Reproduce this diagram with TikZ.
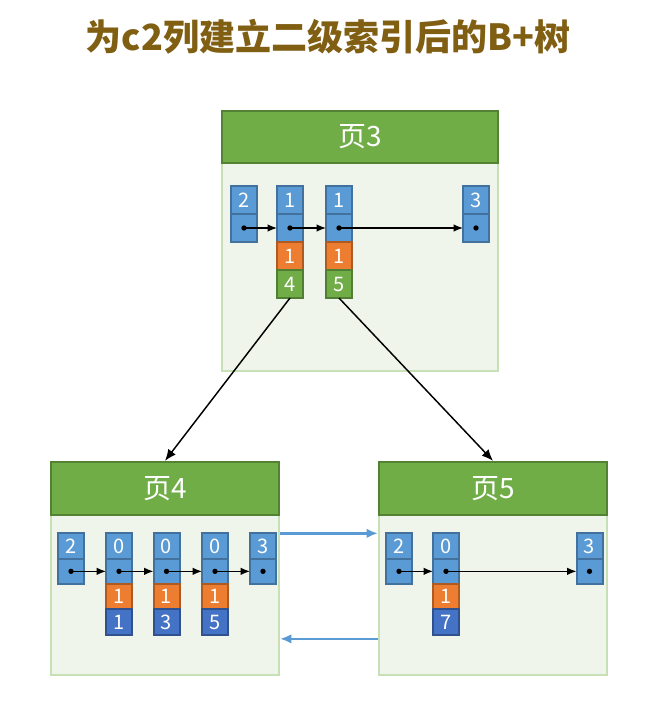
\documentclass[tikz,border=0pt]{standalone}
\usepackage{fontspec}
\setmainfont{Noto Sans CJK SC}
\usetikzlibrary{arrows.meta, positioning}
\definecolor{titlebrown}{RGB}{128,94,18}
\definecolor{headgreen}{RGB}{112,173,71}
\definecolor{headline}{RGB}{84,130,53}
\definecolor{bodyfill}{RGB}{239,245,234}
\definecolor{bodyline}{RGB}{200,224,182}
\definecolor{keyblue}{RGB}{91,155,213}
\definecolor{keyline}{RGB}{65,113,156}
\definecolor{midorange}{RGB}{237,125,49}
\definecolor{orangeline}{RGB}{174,90,33}
\definecolor{idgreen}{RGB}{112,173,71}
\definecolor{idline}{RGB}{80,126,50}
\definecolor{pkblue}{RGB}{68,114,196}
\definecolor{pkline}{RGB}{47,82,143}

\begin{document}
\begin{tikzpicture}[x=0.75pt, y=-0.75pt, node distance=0pt,
  pagebody/.style={draw=bodyline, fill=bodyfill, line width=1.5pt, inner sep=0pt},
  pagehead/.style={draw=headline, fill=headgreen, line width=1.5pt, inner sep=0pt, text=white, font=\fontsize{21}{21}\selectfont},
  cell/.style={line width=1.5pt, minimum width=19.5pt, minimum height=19pt, inner sep=0pt, outer sep=0pt, text=white, font=\fontsize{15}{15}\selectfont},
  keycell/.style={cell, draw=keyline, fill=keyblue},
  ptrcell/.style={cell, draw=keyline, fill=keyblue},
  c1cell/.style={cell, draw=orangeline, fill=midorange},
  idcell/.style={cell, draw=idline, fill=idgreen},
  pkcell/.style={cell, draw=pkline, fill=pkblue},
  ptrarrow/.style={-{Latex[length=2.5mm,width=2mm]}, line width=1pt},
  treearrow/.style={-{Latex[length=3mm,width=2.5mm]}, line width=1.1pt},
  linkarrow/.style={draw=keyblue, -{Latex[length=3mm,width=2.5mm]}, line width=1.8pt}]
\fill[white] (0,0) rectangle (666,703);
\useasboundingbox (0,0) rectangle (666,703);

% title
\node[text=titlebrown, font=\fontsize{27}{27}\selectfont\bfseries] (title) at (328,37) {为c2列建立二级索引后的B+树};

% page 3
\node[pagebody, minimum width=207pt, minimum height=195pt] (p3) at (360,241) {};
\node[pagehead, minimum width=207pt, minimum height=39pt, anchor=north] (p3h) at (p3.north) {页3};
\begin{scope}[cell/.append style={minimum height=21pt}]
\foreach \i/\x/\k in {1/244/2, 2/290/1, 3/339/1, 4/476/3} {
  \node[keycell] (k3\i) at (\x,200) {\k};
  \node[ptrcell, below=of k3\i] (r3\i) {};
}
\node[c1cell, below=of r32] (o32) {1};
\node[idcell, below=of o32] (g32) {4};
\node[c1cell, below=of r33] (o33) {1};
\node[idcell, below=of o33] (g33) {5};
\end{scope}
\foreach \i/\j in {1/2, 2/3, 3/4} \draw[ptrarrow] (r3\i.center) -- (r3\j.west);
\foreach \i in {1,...,4} \fill (r3\i.center) circle (2pt);

% page 4
\node[pagebody, minimum width=171pt, minimum height=160pt] (p4) at (165,568.5) {};
\node[pagehead, minimum width=171pt, minimum height=40pt, anchor=north] (p4h) at (p4.north) {页4};
\foreach \i/\x/\k in {1/71/2, 2/119/0, 3/166.5/0, 4/215/0, 5/263/3} {
  \node[keycell] (k4\i) at (\x,546) {\k};
  \node[ptrcell, below=of k4\i] (r4\i) {};
}
\foreach \i/\pk in {2/1, 3/3, 4/5} {
  \node[c1cell, below=of r4\i] (o4\i) {1};
  \node[pkcell, below=of o4\i] (d4\i) {\pk};
}
\foreach \i/\j in {1/2, 2/3, 3/4, 4/5} \draw[ptrarrow] (r4\i.center) -- (r4\j.west);
\foreach \i in {1,...,5} \fill (r4\i.center) circle (2pt);

% page 5
\node[pagebody, minimum width=171pt, minimum height=160pt] (p5) at (493,568.5) {};
\node[pagehead, minimum width=171pt, minimum height=40pt, anchor=north] (p5h) at (p5.north) {页5};
\foreach \i/\x/\k in {1/399/2, 2/446/0, 3/589.5/3} {
  \node[keycell] (k5\i) at (\x,546) {\k};
  \node[ptrcell, below=of k5\i] (r5\i) {};
}
\node[c1cell, below=of r52] (o52) {1};
\node[pkcell, below=of o52] (d52) {7};
\foreach \i/\j in {1/2, 2/3} \draw[ptrarrow] (r5\i.center) -- (r5\j.west);
\foreach \i in {1,...,3} \fill (r5\i.center) circle (2pt);

% links
\draw[treearrow] (g32.south) -- (p4h.north);
\draw[treearrow] (g33.south) -- (p5h.north);
\draw[linkarrow] (p4.east |- k41.north) -- (p5.west |- k41.north);
\draw[linkarrow] ([yshift=28pt]p5.south west) -- ([yshift=28pt]p4.south east);
\end{tikzpicture}
\end{document}
